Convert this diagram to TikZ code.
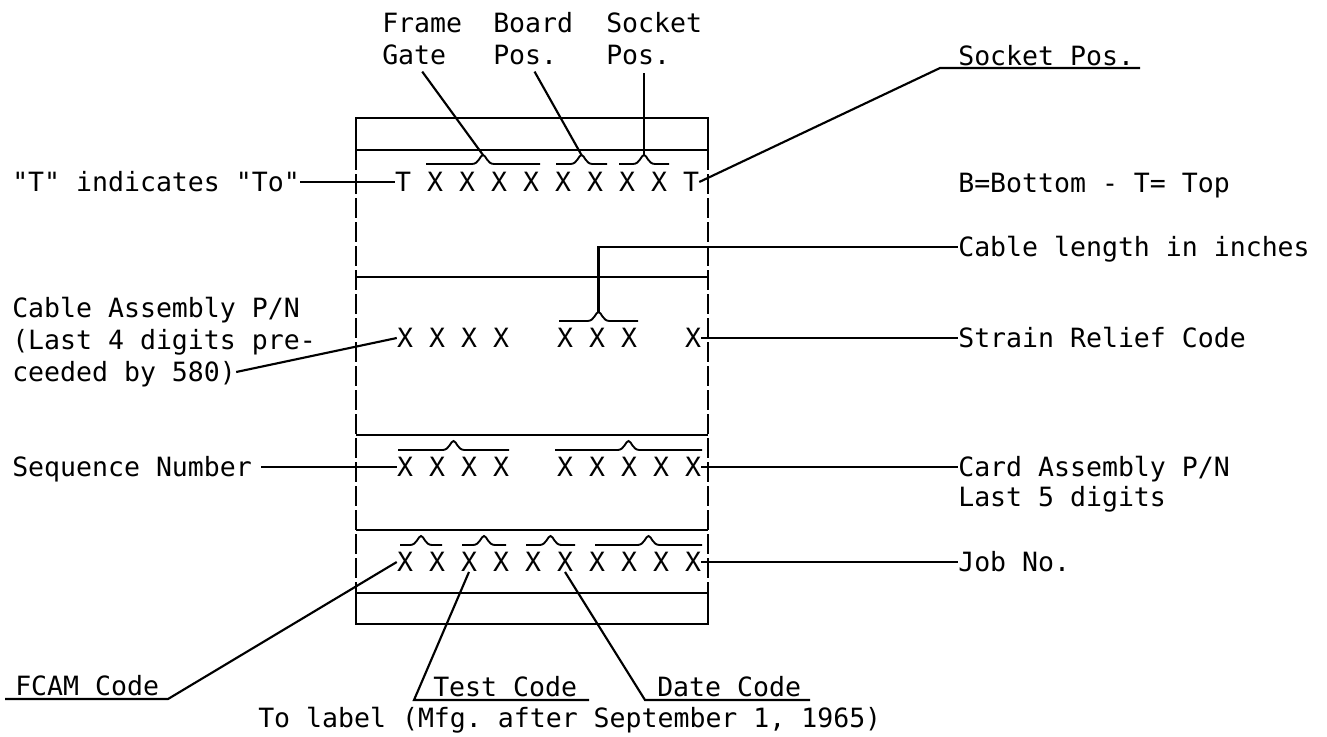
\documentclass[tikz,border=0pt]{standalone}
\usepackage{fontspec}
\setmonofont{DejaVu Sans Mono}
\usetikzlibrary{positioning}
\newcommand{\tfont}{\fontsize{19.9}{24}\selectfont\ttfamily}
\newcommand{\ovbr}[4]{%
  \draw[brc] (#1,#3) -- ({(#1+#2)/2-11},#3)
    .. controls ({(#1+#2)/2-4},#3) and ({(#1+#2)/2-3},{#3-9}) .. ({(#1+#2)/2},{#3-9}) coordinate (#4)
    .. controls ({(#1+#2)/2+3},{#3-9}) and ({(#1+#2)/2+4},#3) .. ({(#1+#2)/2+11},#3) -- (#2,#3);}
\begin{document}
\begin{tikzpicture}[x=0.75pt,y=-0.75pt,
  lbl/.style={font=\tfont,inner sep=0pt,anchor=west,text height=14.5pt,text depth=0pt},
  xch/.style={lbl,anchor=center},
  lead/.style={line width=1.6pt},
  brc/.style={line width=1.4pt},
  frm/.style={line width=1pt}]
\useasboundingbox (0,0) rectangle (1327,736);
\draw[frm] (356,150) -- (356,118) -- (708,118) -- (708,150);
\draw[frm] (356,593) -- (356,624) -- (708,624) -- (708,593);
\draw[frm,dash pattern=on 15pt off 3pt] (356,150) -- (356,593) (708,150) -- (708,593);
\foreach \y in {150,277,435,530,593} \draw[frm] (356,\y) -- (708,\y);
\node[xch] (r1-0) at (403,182) {T};
\foreach \i in {2,4,...,16} \node[xch] (r1-\i) at ({403+16*\i},182) {X};
\node[xch] (r1-18) at (691,182) {T};
\foreach \i in {0,2,4,6,10,12,14,18} \node[xch] (r2-\i) at ({405+16*\i},338) {X};
\foreach \i in {0,2,4,6,10,12,14,16,18} \node[xch] (r3-\i) at ({405+16*\i},467) {X};
\foreach \i in {0,2,...,18} \node[xch] (r4-\i) at ({405+16*\i},562) {X};
\ovbr{426}{540}{164}{fg}
\ovbr{556}{607}{164}{bp}
\ovbr{619}{669}{164}{sp}
\ovbr{559}{638}{321}{cl}
\ovbr{398}{509}{450}{sq}
\ovbr{555}{702}{450}{ca}
\ovbr{400}{442}{545}{d1}
\ovbr{462}{506}{545}{d2}
\ovbr{526}{575}{545}{d3}
\ovbr{595}{702}{545}{d4}
\node[lbl] (frame) at (382,23) {Frame};
\node[lbl] (gate) at (382,55) {Gate};
\node[lbl] (board) at (493,23) {Board};
\node[lbl] (bpos) at (493,55) {Pos.};
\node[lbl] (sock) at (606,23) {Socket};
\node[lbl] (spos) at (606,55) {Pos.};
\draw[lead] ([xshift=6pt,yshift=-5pt]gate.south) -- (fg);
\draw[lead] ([xshift=7pt,yshift=-5pt]bpos.south) -- (bp);
\draw[lead] (sp) -- ++(0,-82);
\node[lbl] (tind) at (12,182) {"T" indicates "To"};
\draw[lead] (tind.east) -- (r1-0.west);
\node[lbl] (cab1) at (12,308) {Cable Assembly P/N};
\node[lbl] (cab2) at (12,340) {(Last 4 digits pre-};
\node[lbl] (cab3) at (12,372) {ceeded by 580)};
\draw[lead] (cab3.east) -- (r2-0.west);
\node[lbl] (seq) at (12,467) {Sequence Number};
\draw[lead] ([xshift=7pt]seq.east) -- (r3-0.west);
\node[lbl] (sockr) at (958,56) {Socket Pos.};
\coordinate (u1a) at (940,68);
\coordinate (u1b) at (1140,68);
\draw[lead] (r1-18.east) -- (u1a) -- (u1b);
\node[lbl] (btop) at (958,183) {B=Bottom - T= Top};
\node[lbl] (clen) at (958,247) {Cable length in inches};
\draw[lead] (cl) -- (cl |- clen.west) -- (clen.west);
\node[lbl] (srel) at (958,338) {Strain Relief Code};
\draw[lead] (r2-18.east) -- (srel.west);
\node[lbl] (card) at (958,467) {Card Assembly P/N};
\node[lbl] (card2) at (958,497) {Last 5 digits};
\draw[lead] (r3-18.east) -- (card.west);
\node[lbl] (job) at (958,562) {Job No.};
\draw[lead] (r4-18.east) -- (job.west);
\node[lbl] (fcam) at (15,686) {FCAM Code};
\coordinate (u2a) at (5,699);
\coordinate (u2b) at (168,699);
\draw[lead] (u2a) -- (u2b) -- (r4-0.west);
\node[lbl] (test) at (433,687) {Test Code};
\coordinate (u3a) at (414,700);
\coordinate (u3b) at (589,700);
\draw[lead] (r4-4.south) -- (u3a) -- (u3b);
\node[lbl] (date) at (657,687) {Date Code};
\coordinate (u4a) at (645,700);
\coordinate (u4b) at (810,700);
\draw[lead] (r4-10.south) -- (u4a) -- (u4b);
\node[lbl] (tolab) at (258,718) {To label (Mfg. after September 1, 1965)};
\end{tikzpicture}
\end{document}
